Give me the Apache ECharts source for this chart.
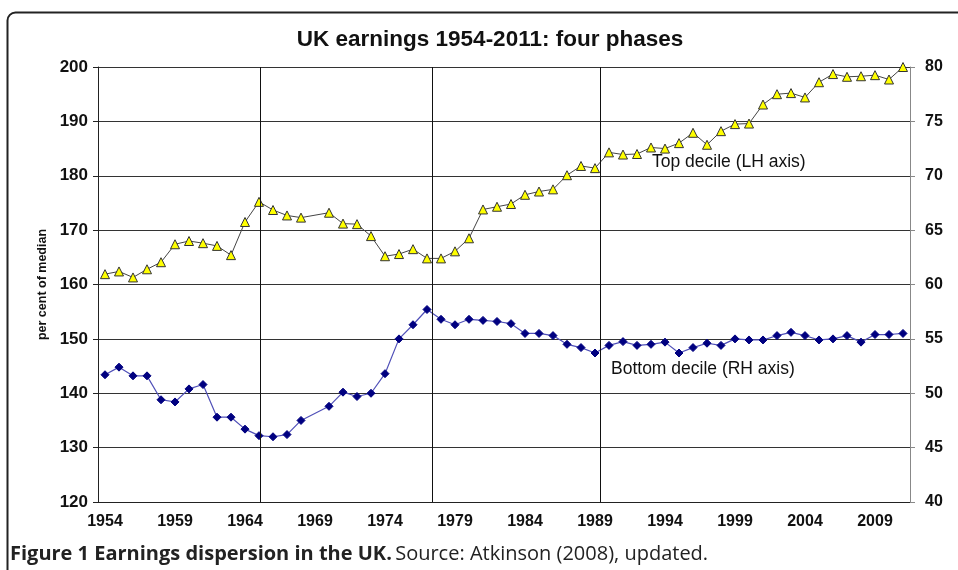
<!DOCTYPE html>
<html>
<head>
<meta charset="utf-8">
<script src="https://cdn.jsdelivr.net/npm/echarts@6/dist/echarts.min.js"></script>
<style>
  html, body { margin: 0; padding: 0; background: #fff; }
  #chart { width: 958px; height: 570px; }
</style>
</head>
<body>
<div id="chart"></div>
<script>
var years = [];
for (var y = 1954; y <= 2011; y++) {
    years.push(String(y));
}

// top decile, per cent of median (left axis); 1969 missing
var topDecile = [
    161.9, 162.4, 161.3, 162.8, 164.1, 167.4, 168.0, 167.6, 167.1, 165.4,
    171.5, 175.2, 173.7, 172.7, 172.3, '-', 173.2, 171.2, 171.1, 168.9,
    165.2, 165.6, 166.5, 164.8, 164.8, 166.1, 168.5, 173.8, 174.3, 174.8,
    176.5, 177.1, 177.5, 180.1, 181.8, 181.4, 184.3, 183.9, 184.0, 185.2,
    185.0, 186.0, 187.9, 185.7, 188.2, 189.5, 189.6, 193.1, 195.0, 195.2,
    194.4, 197.2, 198.7, 198.2, 198.3, 198.5, 197.7, 200.0
];

// bottom decile, per cent of median (right axis); 1969 missing
var bottomDecile = [
    51.7, 52.4, 51.6, 51.6, 49.4, 49.2, 50.4, 50.8, 47.8, 47.8,
    46.7, 46.1, 46.0, 46.2, 47.5, '-', 48.8, 50.1, 49.7, 50.0,
    51.8, 55.0, 56.3, 57.7, 56.8, 56.3, 56.8, 56.7, 56.6, 56.4,
    55.5, 55.5, 55.3, 54.5, 54.2, 53.7, 54.4, 54.75, 54.4, 54.5,
    54.7, 53.7, 54.2, 54.6, 54.4, 55.0, 54.9, 54.9, 55.3, 55.6,
    55.3, 54.9, 55.0, 55.3, 54.7, 55.4, 55.4, 55.5
];

// phase breaks, in years on a continuous scale (slot of 1954 runs 1954..1955)
var phaseBreaks = [1965.6, 1977.9, 1989.85];

var el = document.getElementById('chart');
var myChart = echarts.init(el);

var option = {
    animation: false,
    backgroundColor: '#fff',
    title: {
        text: 'UK earnings 1954-2011: four phases',
        left: 485,
        textAlign: 'center',
        top: 23,
        textStyle: {
            fontFamily: 'Liberation Sans',
            fontSize: 22.5,
            fontWeight: 'bold',
            color: '#111'
        }
    },
    grid: {
        left: 98,
        right: 48,
        top: 67,
        bottom: 68
    },
    xAxis: [{
        type: 'category',
        data: years,
        boundaryGap: true,
        axisLine: { lineStyle: { color: '#222', width: 1 } },
        axisTick: { interval: 0, length: 5, lineStyle: { color: '#222' } },
        axisLabel: {
            interval: 4,
            margin: 12,
            fontFamily: 'Liberation Sans',
            fontSize: 16,
            fontWeight: 'bold',
            color: '#111'
        },
        splitLine: { show: false }
    }, {
        type: 'value',
        min: 1954,
        max: 2012,
        show: false
    }],
    yAxis: [{
        type: 'value',
        min: 120,
        max: 200,
        interval: 10,
        name: 'per cent of median',
        nameLocation: 'middle',
        nameRotate: 90,
        nameGap: 49,
        nameTextStyle: {
            fontFamily: 'Liberation Sans',
            fontSize: 12.5,
            fontWeight: 'bold',
            color: '#111'
        },
        axisLine: { show: true, lineStyle: { color: '#222', width: 1 } },
        axisTick: { show: true, length: 5, lineStyle: { color: '#222' } },
        axisLabel: {
            margin: 10,
            fontFamily: 'Liberation Sans',
            fontSize: 17,
            fontWeight: 'bold',
            color: '#111'
        },
        splitLine: { show: true, lineStyle: { color: '#333', width: 1 } }
    }, {
        type: 'value',
        min: 40,
        max: 80,
        interval: 5,
        position: 'right',
        axisLine: { show: true, lineStyle: { color: '#888', width: 1 } },
        axisTick: { show: true, length: 5, lineStyle: { color: '#888' } },
        axisLabel: {
            margin: 15,
            fontFamily: 'Liberation Sans',
            fontSize: 16,
            fontWeight: 'bold',
            color: '#111'
        },
        splitLine: { show: false }
    }],
    series: [{
        name: 'Top decile',
        type: 'line',
        data: topDecile,
        xAxisIndex: 0,
        yAxisIndex: 0,
        connectNulls: true,
        symbol: 'triangle',
        symbolSize: 9,
        itemStyle: { color: '#ffff00', borderColor: '#333', borderWidth: 1 },
        lineStyle: { color: '#444', width: 1 },
        z: 4
    }, {
        name: 'Bottom decile',
        type: 'line',
        data: bottomDecile,
        xAxisIndex: 0,
        yAxisIndex: 1,
        connectNulls: true,
        symbol: 'diamond',
        symbolSize: 8,
        itemStyle: { color: '#000080', borderColor: '#000080' },
        lineStyle: { color: '#5050b8', width: 1.2 },
        z: 4
    }, {
        name: 'phases',
        type: 'line',
        data: [],
        xAxisIndex: 1,
        yAxisIndex: 0,
        markLine: {
            silent: true,
            symbol: 'none',
            label: { show: false },
            lineStyle: { color: '#111', width: 1, type: 'solid' },
            data: phaseBreaks.map(function (v) { return { xAxis: v }; })
        },
        z: 2
    }],
    graphic: [{
        type: 'rect',
        left: 5,
        top: 10,
        shape: { width: 1000, height: 600, r: 8 },
        style: { fill: null, stroke: '#222', lineWidth: 2 },
        silent: true
    }, {
        type: 'text',
        left: 652,
        top: 153,
        style: {
            text: 'Top decile (LH axis)',
            font: '17.5px "Liberation Sans"',
            fill: '#111'
        }
    }, {
        type: 'text',
        left: 611,
        top: 360,
        style: {
            text: 'Bottom decile (RH axis)',
            font: '17.5px "Liberation Sans"',
            fill: '#111'
        }
    }, {
        type: 'text',
        left: 10,
        top: 544,
        style: {
            text: '{b|Figure 1 Earnings dispersion in the UK.} {n|Source: Atkinson (2008), updated.}',
            rich: {
                b: { fontFamily: 'Open Sans', fontSize: 20, fontWeight: 'bold', fill: '#222' },
                n: { fontFamily: 'Open Sans', fontSize: 20, fill: '#222' }
            }
        }
    }]
};

myChart.setOption(option);
</script>
</body>
</html>
